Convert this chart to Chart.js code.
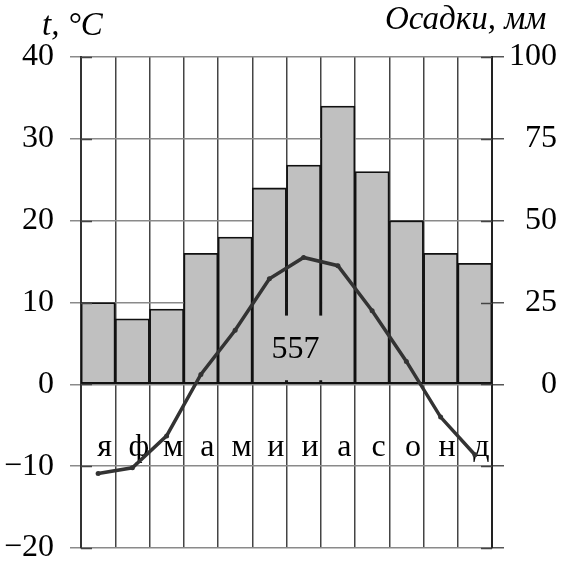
<!DOCTYPE html>
<html>
<head>
<meta charset="utf-8">
<script src="https://cdn.jsdelivr.net/npm/chart.js@4/dist/chart.umd.min.js"></script>
<style>
html,body{margin:0;padding:0;background:#fff;}
#wrap{width:564px;height:562px;position:relative;}
</style>
</head>
<body>
<div id="wrap"><canvas id="c" width="564" height="562"></canvas></div>
<script>
const months = ['я','ф','м','а','м','и','и','а','с','о','н','д'];
const temperature = [-10.9, -10.2, -6.3, 1.2, 6.6, 12.9, 15.5, 14.5, 9.0, 2.8, -4.0, -8.6];
const precipitation = [25, 20, 23, 40, 45, 60, 67, 85, 65, 50, 40, 37];
const tempTicks = [-20, -10, 0, 10, 20, 30, 40];
const precipTicks = [0, 25, 50, 75, 100];
const totalPrecip = '557';
const leftTitle = 't, °C';
const rightTitle = 'Осадки, мм';

const SERIF = "'Liberation Serif', 'Times New Roman', serif";

const overlay = {
  id: 'overlay',
  beforeDatasetsDraw(chart) {
    const ctx = chart.ctx, x = chart.scales.x, y = chart.scales.y;
    ctx.save();
    ctx.fillStyle = '#000';
    ctx.font = '32px ' + SERIF;
    ctx.textAlign = 'center';
    ctx.textBaseline = 'alphabetic';
    months.forEach((m, i) => {
      ctx.fillText(m, x.getPixelForValue(i) + 6.5, y.getPixelForValue(-8.8));
    });
    ctx.restore();
  },
  afterDatasetDraw(chart, args) {
    if (args.index !== 0) return;
    const ctx = chart.ctx, x = chart.scales.x, y = chart.scales.y;
    ctx.save();
    const cx = (x.getPixelForValue(5) + x.getPixelForValue(6)) / 2 + 9;
    ctx.fillStyle = '#c0c0c0';
    ctx.fillRect(cx - 17, y.getPixelForValue(8.4), 50, y.getPixelForValue(0.5) - y.getPixelForValue(8.4));
    ctx.fillStyle = '#000';
    ctx.font = '32px ' + SERIF;
    ctx.textAlign = 'center';
    ctx.textBaseline = 'alphabetic';
    ctx.fillText(totalPrecip, cx, y.getPixelForValue(3.2));
    ctx.strokeStyle = '#444';
    ctx.lineWidth = 1.5;
    const a = chart.chartArea;
    tempTicks.forEach(v => {
      const py = Math.round(y.getPixelForValue(v)) + 0.5;
      ctx.beginPath();
      ctx.moveTo(a.left, py); ctx.lineTo(a.left + 11, py);
      ctx.moveTo(a.right - 11, py); ctx.lineTo(a.right, py);
      ctx.stroke();
    });
    ctx.restore();
  },
  afterDraw(chart) {
    const ctx = chart.ctx;
    ctx.save();
    ctx.fillStyle = '#000';
    ctx.font = 'italic 33px ' + SERIF;
    ctx.textBaseline = 'alphabetic';
    ctx.textAlign = 'left';
    ctx.fillText(leftTitle, 42, 35);
    ctx.fillText(rightTitle, 385, 29);
    ctx.restore();
  }
};

function fitAxis(w) {
  return function (scale) {
    scale.width = w;
    scale.paddingTop = 0;
    scale.paddingBottom = 0;
  };
}

new Chart(document.getElementById('c'), {
  data: {
    labels: months,
    datasets: [
      {
        type: 'line',
        data: temperature,
        yAxisID: 'y',
        borderColor: '#333',
        backgroundColor: '#333',
        borderWidth: 3.5,
        pointRadius: 2.5,
        pointBackgroundColor: '#333',
        pointBorderWidth: 0,
        tension: 0,
        order: 0
      },
      {
        type: 'bar',
        data: precipitation,
        yAxisID: 'y1',
        backgroundColor: '#c0c0c0',
        borderColor: '#111',
        borderWidth: 1.8,
        borderSkipped: false,
        barPercentage: 1,
        categoryPercentage: 1,
        order: 1
      }
    ]
  },
  options: {
    responsive: false,
    animation: false,
    devicePixelRatio: 1,
    layout: { padding: { left: 0, right: 7, top: 57, bottom: 14 } },
    plugins: { legend: { display: false }, tooltip: { enabled: false } },
    scales: {
      x: {
        type: 'category',
        offset: true,
        grid: { offset: true, color: '#444', lineWidth: 1.5, drawTicks: false },
        border: { display: false },
        ticks: { display: false },
        afterFit(s) { s.height = 0; s.paddingLeft = 0; s.paddingRight = 0; }
      },
      y: {
        position: 'left',
        min: -20, max: 40,
        afterBuildTicks(s) { s.ticks = tempTicks.map(v => ({ value: v })); },
        ticks: {
          color: '#000',
          font: { family: SERIF, size: 32, lineHeight: 0.8 },
          padding: 16,
          callback: v => (v < 0 ? '\u2212' + Math.abs(v) : String(v))
        },
        grid: { color: '#8a8a8a', lineWidth: 1.5, tickLength: 11, tickColor: '#8a8a8a' },
        border: { color: '#333', width: 2 },
        afterFit: fitAxis(81)
      },
      y1: {
        position: 'right',
        min: -50, max: 100,
        afterBuildTicks(s) { s.ticks = [-50, -25].concat(precipTicks).map(v => ({ value: v })); },
        ticks: {
          color: '#000',
          font: { family: SERIF, size: 32, lineHeight: 0.8 },
          padding: 4,
          crossAlign: 'far',
          callback: v => (v < 0 ? '' : String(v))
        },
        grid: { drawOnChartArea: false, lineWidth: 1.5, tickLength: 12, tickColor: '#555' },
        border: { color: '#222', width: 2 },
        afterFit: fitAxis(65)
      }
    }
  },
  plugins: [overlay]
});
</script>
</body>
</html>
